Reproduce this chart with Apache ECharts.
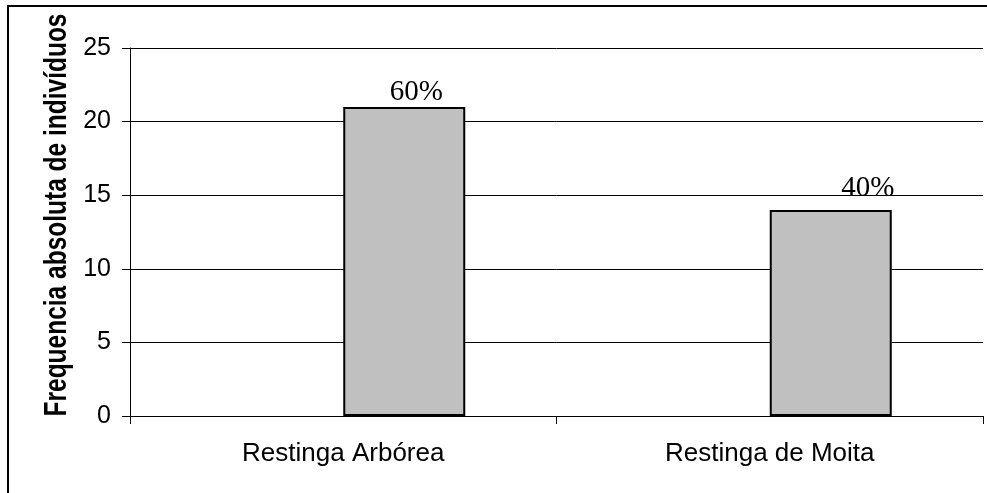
<!DOCTYPE html>
<html>
<head>
<meta charset="utf-8">
<script src="https://cdn.jsdelivr.net/npm/echarts@6/dist/echarts.min.js"></script>
<style>
html,body{margin:0;padding:0;background:#fff;}
#chart{width:987px;height:493px;}
</style>
</head>
<body>
<div id="chart"></div>
<script>
const categories = ['Restinga Arbórea', 'Restinga de Moita'];
const frequencies = [21, 14];
const percentLabels = ['60%', '40%'];
const yTicks = [0, 5, 10, 15, 20, 25];
const yTitle = 'Frequencia absoluta de indivíduos';

const labelOffsets = [[12, 0], [37, -7]];

const chart = echarts.init(document.getElementById('chart'), null, {renderer: 'canvas'});
const option = {
  backgroundColor: '#ffffff',
  animation: false,
  grid: {left: 130, right: 4, top: 48, bottom: 77, containLabel: false},
  xAxis: {
    type: 'category',
    data: categories,
    boundaryGap: true,
    axisLine: {show: true, lineStyle: {color: '#000', width: 1}},
    axisTick: {show: true, length: 8, alignWithLabel: false, lineStyle: {color: '#000'}},
    axisLabel: {color: '#000', fontFamily: 'Liberation Sans, Arial, sans-serif', fontSize: 26, margin: 25},
    splitLine: {show: false}
  },
  yAxis: {
    type: 'value',
    min: yTicks[0],
    max: yTicks[yTicks.length - 1],
    interval: 5,
    axisLine: {show: true, lineStyle: {color: '#000', width: 1}},
    axisTick: {show: true, length: 8, lineStyle: {color: '#000'}},
    axisLabel: {color: '#000', fontFamily: 'Liberation Sans, Arial, sans-serif', fontSize: 25, margin: 19},
    splitLine: {show: true, lineStyle: {color: '#000', width: 1}}
  },
  series: [
    {
      type: 'bar',
      data: categories.map(() => null),
      barWidth: 122,
      barGap: '0%',
      silent: true
    },
    {
      type: 'bar',
      data: frequencies.map((v, i) => ({
        value: v,
        label: {
          show: true,
          position: 'top',
          distance: 0,
          offset: labelOffsets[i],
          formatter: percentLabels[i],
          color: '#000',
          fontFamily: 'Liberation Serif, Times New Roman, serif',
          fontSize: 29
        }
      })),
      barWidth: 122,
      barGap: '0%',
      itemStyle: {color: '#C0C0C0', borderColor: '#000', borderWidth: 2}
    }
  ],
  graphic: [
    {
      type: 'rect',
      shape: {x: 8, y: 6, width: 1000, height: 520},
      style: {fill: 'none', stroke: '#000', lineWidth: 2},
      silent: true
    },
    {
      type: 'text',
      x: 58,
      y: 215,
      rotation: Math.PI / 2,
      scaleY: 1.25,
      style: {
        text: yTitle,
        fill: '#000',
        font: 'bold 24.5px "Liberation Sans", Arial, sans-serif',
        textAlign: 'center',
        textVerticalAlign: 'middle'
      }
    }
  ]
};
chart.setOption(option);
</script>
</body>
</html>
